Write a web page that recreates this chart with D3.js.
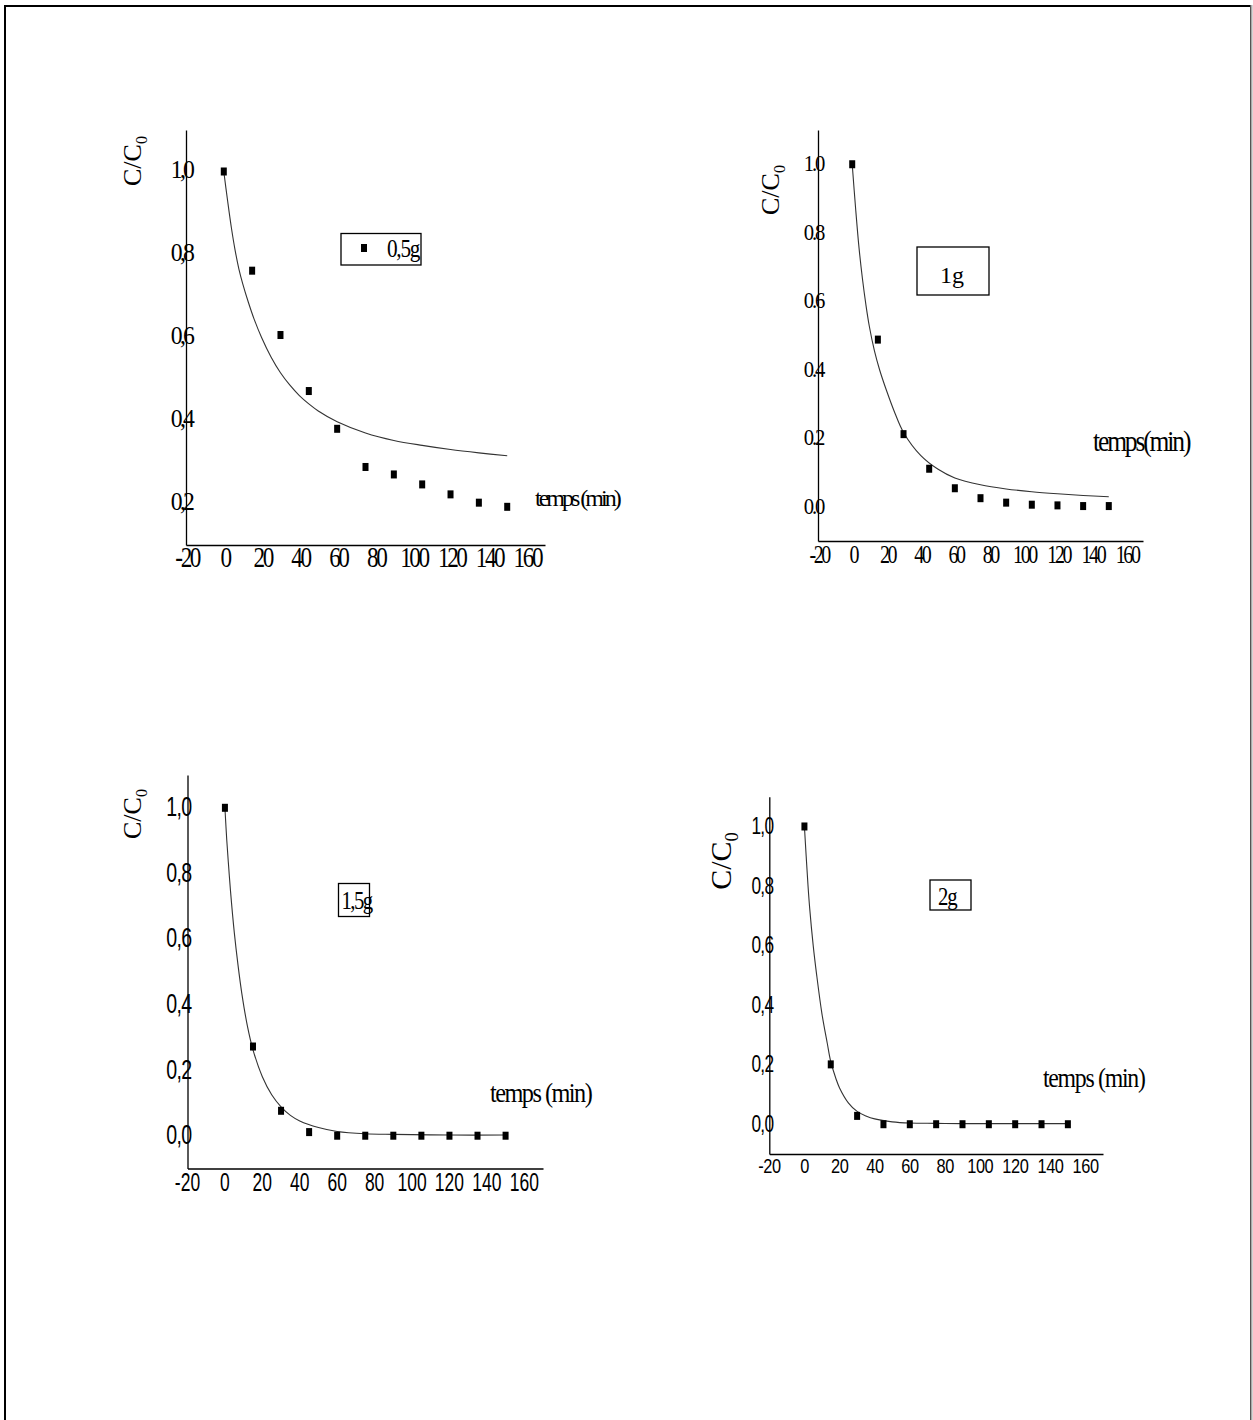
<!DOCTYPE html>
<html><head><meta charset="utf-8">
<script src="https://cdn.jsdelivr.net/npm/d3@7"></script>
<style>body{margin:0;background:#fff}</style>
</head><body>
<svg id="c" width="1253" height="1420"></svg>
<script>
// ---------- DATA ----------
const times = [0, 15, 30, 45, 60, 75, 90, 105, 120, 135, 150];
const xTicks = [-20, 0, 20, 40, 60, 80, 100, 120, 140, 160];
const yTicks05 = [0.2, 0.4, 0.6, 0.8, 1.0];
const yTicks = [0.0, 0.2, 0.4, 0.6, 0.8, 1.0];

const pts05 = [1.0, 0.761, 0.606, 0.471, 0.380, 0.288, 0.270, 0.246, 0.222, 0.202, 0.192];
const pts1  = [1.0, 0.488, 0.212, 0.111, 0.054, 0.025, 0.012, 0.006, 0.004, 0.002, 0.002];
const pts15 = [1.0, 0.272, 0.076, 0.011, 0.0, 0.0, 0.0, 0.0, 0.0, 0.0, 0.0];
const pts2  = [1.0, 0.201, 0.028, 0.0, 0.0, 0.0, 0.0, 0.0, 0.0, 0.0, 0.0];

const fitT05 = [0, 2, 4, 6, 8, 10, 13, 16, 20, 25, 30, 35, 40, 45, 50, 60, 75, 90, 105, 120, 135, 150];
const fitV05 = [1.0, 0.93, 0.865, 0.81, 0.765, 0.73, 0.685, 0.645, 0.6, 0.553, 0.515, 0.485, 0.46, 0.44, 0.423, 0.397, 0.37, 0.352, 0.34, 0.33, 0.322, 0.315];
const fitT1 = [0, 2, 4, 6, 8, 10, 13, 16, 20, 25, 30, 40, 50, 60, 75, 90, 105, 120, 135, 150];
const fitV1 = [1.0, 0.87, 0.755, 0.665, 0.59, 0.527, 0.455, 0.4, 0.34, 0.273, 0.217, 0.15, 0.11, 0.084, 0.064, 0.052, 0.044, 0.038, 0.033, 0.029];
const fitT15 = [0, 1, 2, 3, 5, 7, 9, 12, 15, 20, 25, 30, 35, 40, 50, 60, 75, 90, 120, 150];
const fitV15 = [1.0, 0.9, 0.82, 0.745, 0.62, 0.52, 0.435, 0.335, 0.262, 0.18, 0.125, 0.088, 0.062, 0.045, 0.025, 0.013, 0.006, 0.004, 0.002, 0.002];
const fitT2 = [0, 1, 2, 3, 5, 7, 10, 13, 15, 18, 20, 25, 30, 35, 40, 50, 60, 75, 90, 120, 150];
const fitV2 = [1.0, 0.9, 0.805, 0.725, 0.6, 0.5, 0.37, 0.272, 0.21, 0.152, 0.122, 0.072, 0.043, 0.028, 0.018, 0.008, 0.004, 0.003, 0.002, 0.002, 0.002];

const legendLabels = ["0,5g", "1g", "1,5g", "2g"];
const xTitle = ["temps (min)", "temps(min)", "temps (min)", "temps (min)"];

// ---------- LAYOUT ----------
const SERIF = "'Liberation Serif','Times New Roman',serif";
const SANS = "'Liberation Sans',Arial,sans-serif";
const panels = [
  { pts: pts05, fitT: fitT05, fitV: fitV05, yt: yTicks05, ydom: [0.1, 1.1], sep: ",",
    xr: [186, 545], yr: [545, 130],
    yf: { fam: SERIF, size: 25, sx: 0.95, ls: -3, dx: 6, dy: 6.5 },
    xf: { fam: SERIF, size: 29, sx: 0.8, ls: -3, dy: 22 },
    ylab: { x: 141, y: 161, size: 26 },
    tt: { x: 535, y: 506, size: 24, sx: 1, ls: -3 },
    box: { x: 341, y: 233.5, w: 80, h: 31.5 }, mark: { x: 364, y: 248 },
    lt: { x: 387, y: 256.5, size: 25, sx: 0.85, ls: -1.5, anchor: "start" } },
  { pts: pts1, fitT: fitT1, fitV: fitV1, yt: yTicks, ydom: [-0.1, 1.1], sep: ".",
    xr: [818, 1143], yr: [541, 130],
    yf: { fam: SERIF, size: 23, sx: 0.9, ls: -2.5, dx: 5, dy: 7 },
    xf: { fam: SERIF, size: 25, sx: 0.8, ls: -3, dy: 22 },
    ylab: { x: 779, y: 190, size: 26 },
    tt: { x: 1093, y: 451, size: 30, sx: 0.85, ls: -2.5 },
    box: { x: 917, y: 247, w: 72, h: 48 }, mark: null,
    lt: { x: 952, y: 282.5, size: 24, sx: 1, ls: 0, anchor: "middle" } },
  { pts: pts15, fitT: fitT15, fitV: fitV15, yt: yTicks, ydom: [-0.1, 1.1], sep: ",",
    xr: [187.5, 543], yr: [1168.5, 775],
    yf: { fam: SANS, size: 28, sx: 0.7, ls: -1, dx: 4, dy: 8.5 },
    xf: { fam: SANS, size: 25, sx: 0.7, ls: 0, dy: 22 },
    ylab: { x: 141, y: 814, size: 26 },
    tt: { x: 490, y: 1102, size: 27, sx: 0.9, ls: -1.7 },
    box: { x: 338.5, y: 883.5, w: 31, h: 33 }, mark: null,
    lt: { x: 341.5, y: 908.5, size: 26, sx: 0.8, ls: -2, anchor: "start" } },
  { pts: pts2, fitT: fitT2, fitV: fitV2, yt: yTicks, ydom: [-0.1, 1.1], sep: ",",
    xr: [769.3, 1103], yr: [1154, 796.7],
    yf: { fam: SANS, size: 24, sx: 0.72, ls: -1, dx: 4, dy: 7.5 },
    xf: { fam: SANS, size: 21, sx: 0.78, ls: -0.5, dy: 19 },
    ylab: { x: 731, y: 861, size: 30 },
    tt: { x: 1043, y: 1087, size: 28, sx: 0.85, ls: -1.5 },
    box: { x: 930, y: 880, w: 41, h: 30 }, mark: null,
    lt: { x: 938, y: 905, size: 26, sx: 0.8, ls: -1.5, anchor: "start" } }
];

const svg = d3.select("#c");

// outer frame
svg.append("rect").attr("x", 5).attr("y", 6).attr("width", 1246).attr("height", 1500)
  .attr("fill", "none").attr("stroke", "#000").attr("stroke-width", 2);
svg.append("line").attr("x1", 1251.5).attr("x2", 1251.5).attr("y1", 5).attr("y2", 1420)
  .attr("stroke", "#aaa").attr("stroke-width", 2);

function label(g, x, y, str, o, anchor) {
  const gg = g.append("g").attr("transform", `translate(${x},${y}) scale(${o.sx},1)`);
  gg.append("text").attr("x", 0).attr("y", 0)
    .attr("text-anchor", anchor)
    .style("font-family", o.fam || SERIF)
    .style("font-size", o.size + "px")
    .style("letter-spacing", (o.ls || 0) + "px")
    .attr("fill", "#000")
    .text(str);
  return gg;
}

panels.forEach((p, i) => {
  const g = svg.append("g");
  const x = d3.scaleLinear().domain([-20, 170]).range(p.xr);
  const y = d3.scaleLinear().domain(p.ydom).range(p.yr);

  // axes (no tick marks)
  const xAxis = d3.axisBottom(x).tickValues(xTicks).tickSize(0).tickFormat("");
  const yAxis = d3.axisLeft(y).tickValues(p.yt).tickSize(0).tickFormat("");
  g.append("g").attr("transform", `translate(0,${p.yr[0]})`).call(xAxis)
    .call(s => s.select(".domain").attr("stroke", "#000").attr("stroke-width", 1.3));
  g.append("g").attr("transform", `translate(${p.xr[0]},0)`).call(yAxis)
    .call(s => s.select(".domain").attr("stroke", "#000").attr("stroke-width", 1.3));

  // tick labels
  xTicks.forEach(t => {
    label(g, x(t) - (p.xf.ls * p.xf.sx) / 2, p.yr[0] + p.xf.dy, String(t), p.xf, "middle");
  });
  p.yt.forEach(v => {
    const s = v.toFixed(1).replace(".", p.sep);
    label(g, p.xr[0] + p.yf.dx, y(v) + p.yf.dy, s, p.yf, "end");
  });

  // y title
  const yl = g.append("text")
    .attr("transform", `translate(${p.ylab.x},${p.ylab.y}) rotate(-90)`)
    .attr("text-anchor", "middle")
    .style("font-family", SERIF).style("font-size", p.ylab.size + "px");
  yl.append("tspan").text("C/C");
  yl.append("tspan").attr("dy", p.ylab.size * 0.22).style("font-size", (p.ylab.size * 0.62) + "px").text("0");

  // x title
  label(g, p.tt.x, p.tt.y, xTitle[i], { fam: SERIF, size: p.tt.size, sx: p.tt.sx, ls: p.tt.ls }, "start");

  // fit curve
  const line = d3.line().x(d => x(d[0])).y(d => y(d[1])).curve(d3.curveCatmullRom.alpha(0.5));
  g.append("path").datum(p.fitT.map((t, k) => [t, p.fitV[k]]))
    .attr("d", line).attr("fill", "none").attr("stroke", "#333").attr("stroke-width", 1.1);

  // points
  g.selectAll("rect.pt").data(times.map((t, k) => [t, p.pts[k]])).enter()
    .append("rect").attr("class", "pt")
    .attr("x", d => x(d[0]) - 3).attr("y", d => y(d[1]) - 4)
    .attr("width", 6).attr("height", 8).attr("fill", "#000");

  // legend box
  g.append("rect").attr("x", p.box.x).attr("y", p.box.y).attr("width", p.box.w).attr("height", p.box.h)
    .attr("fill", "none").attr("stroke", "#000").attr("stroke-width", 1.3);
  if (p.mark) {
    g.append("rect").attr("x", p.mark.x - 3).attr("y", p.mark.y - 4).attr("width", 6).attr("height", 8).attr("fill", "#000");
  }
  label(g, p.lt.x, p.lt.y, legendLabels[i], { fam: SERIF, size: p.lt.size, sx: p.lt.sx, ls: p.lt.ls }, p.lt.anchor);
});
</script>
</body></html>
